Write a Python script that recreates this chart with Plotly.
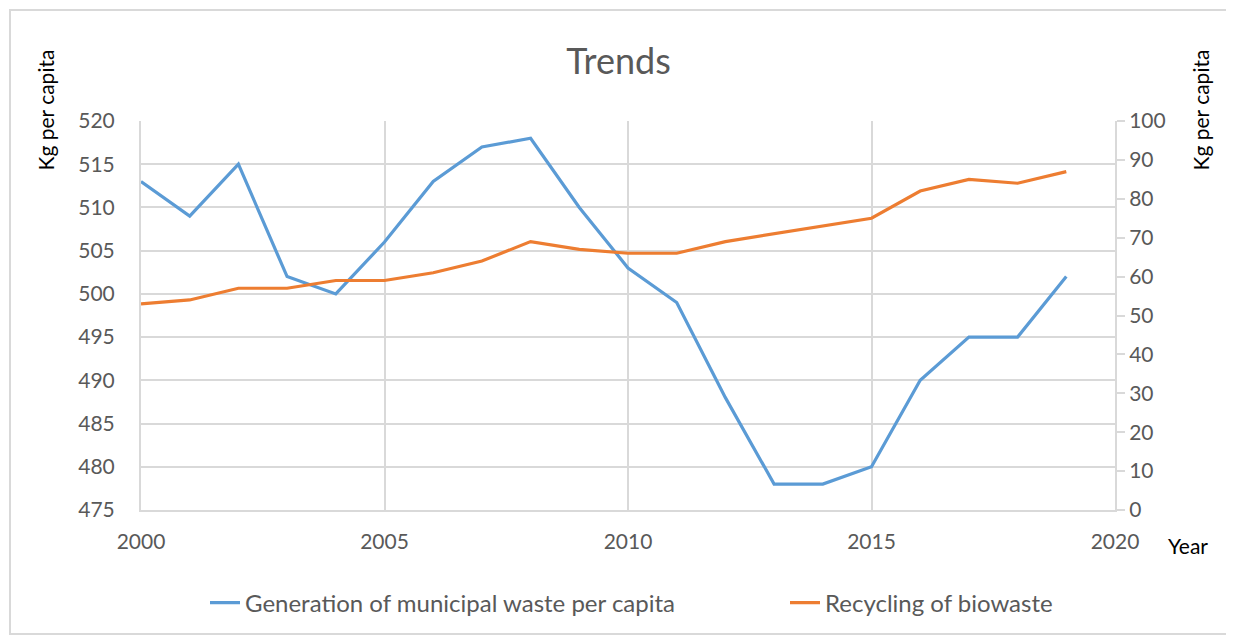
import plotly.graph_objects as go

years = list(range(2000, 2020))
municipal_waste = [513, 509, 515, 502, 500, 506, 513, 517, 518, 510,
                   503, 499, 488, 478, 478, 480, 490, 495, 495, 502]
biowaste = [53, 54, 57, 57, 59, 59, 61, 64, 69, 67,
            66, 66, 69, 71, 73, 75, 82, 85, 84, 87]

FONT = "Lato, 'Open Sans', sans-serif"
GRAY = "#595959"
GRID = "#d9d9d9"

fig = go.Figure()
fig.add_trace(go.Scatter(x=years, y=municipal_waste, mode="lines",
                         name="Generation of municipal waste per capita",
                         legend="legend",
                         line=dict(color="#5B9BD5", width=3.2)))
fig.add_trace(go.Scatter(x=years, y=biowaste, mode="lines", yaxis="y2",
                         name="Recycling of biowaste",
                         legend="legend2",
                         line=dict(color="#ED7D31", width=3.2)))

# page offset (default body margin of the html page)
OFF = 8
L, R, T, B = 141 - OFF, 1115 - OFF, 121 - OFF, 510 - OFF
W, H = 1234 - OFF, 639 - OFF
pw, ph = R - L, B - T

def px(x):
    return (x - OFF - L) / pw

def py(y):
    return (B - (y - OFF)) / ph

legend_style = dict(orientation="h", xanchor="left", y=py(603),
                    yanchor="middle", bgcolor="rgba(0,0,0,0)",
                    font=dict(size=24, color=GRAY, family=FONT))

fig.update_layout(
    width=W, height=H,
    margin=dict(l=L, r=W - R, t=T, b=H - B, autoexpand=False),
    paper_bgcolor="white", plot_bgcolor="white",
    font=dict(family=FONT, color=GRAY, size=20),
    title=dict(text="Trends", x=px(626), xanchor="center", y=1 - (61 - OFF) / H,
               yanchor="middle", font=dict(size=36, color=GRAY, family=FONT)),
    xaxis=dict(range=[2000, 2020], dtick=5, tick0=2000, showgrid=True,
               gridcolor=GRID, gridwidth=2, showline=True, linecolor=GRID,
               linewidth=2, zeroline=False, ticks="outside",
               tickcolor="rgba(0,0,0,0)", ticklen=12,
               tickfont=dict(size=21, color=GRAY, family=FONT)),
    yaxis=dict(range=[475, 520], dtick=5, tick0=475, showgrid=True,
               gridcolor=GRID, gridwidth=2, showline=True, linecolor=GRID,
               linewidth=2, zeroline=False, ticks="outside",
               tickcolor="rgba(0,0,0,0)", ticklen=20,
               tickfont=dict(size=21, color=GRAY, family=FONT)),
    yaxis2=dict(range=[0, 100], dtick=10, tick0=0, overlaying="y",
                side="right", showgrid=False, showline=True, linecolor=GRID,
                linewidth=2, zeroline=False, ticks="outside", tickcolor=GRID,
                tickwidth=2, ticklen=8,
                tickfont=dict(size=21, color=GRAY, family=FONT)),
    legend=dict(x=px(205), **legend_style),
    legend2=dict(x=px(785), **legend_style),
    showlegend=True,
)

fig.add_annotation(text="Kg per capita", xref="paper", yref="paper",
                   x=px(45), y=py(48), xanchor="center", yanchor="top",
                   textangle=-90, showarrow=False,
                   font=dict(size=21, color="black", family=FONT))
fig.add_annotation(text="Kg per capita", xref="paper", yref="paper",
                   x=px(1200), y=py(48), xanchor="center", yanchor="top",
                   textangle=-90, showarrow=False,
                   font=dict(size=21, color="black", family=FONT))
fig.add_annotation(text="Year", xref="paper", yref="paper",
                   x=px(1166), y=py(545), xanchor="left", yanchor="middle",
                   showarrow=False,
                   font=dict(size=21, color="black", family=FONT))

fig.add_shape(type="rect", xref="paper", yref="paper",
              x0=px(10), x1=px(1229), y0=py(634), y1=py(10),
              line=dict(color=GRID, width=2), fillcolor="rgba(0,0,0,0)",
              layer="below")

fig.write_html("out.html")
